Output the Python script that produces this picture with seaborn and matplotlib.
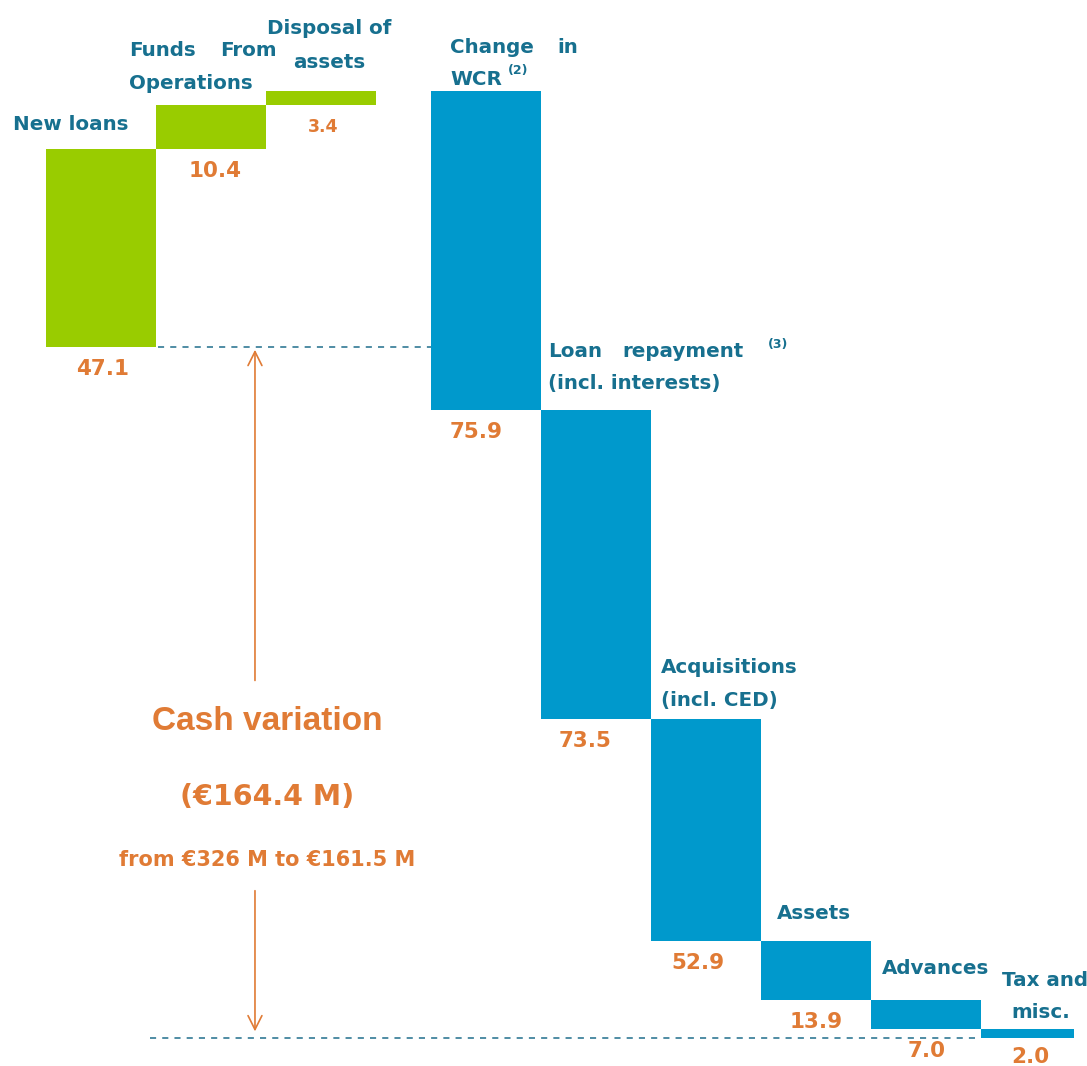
import matplotlib
matplotlib.use("Agg")
import matplotlib.pyplot as plt
import seaborn as sns

# waterfall data (EUR M)
categories = ["New loans", "Funds From Operations", "Disposal of assets",
              "Change in WCR", "Loan repayment", "Acquisitions",
              "Assets", "Advances", "Tax and misc."]
inflows = [47.1, 10.4, 3.4]
outflows = [75.9, 73.5, 52.9, 13.9, 7.0, 2.0]
value_labels = ["47.1", "10.4", "3.4", "75.9", "73.5", "52.9", "13.9", "7.0", "2.0"]
positions = [0, 1, 2, 3.5, 4.5, 5.5, 6.5, 7.5, 8.5]
cash_total = "(€164.4 M)"
cash_range = "from €326 M to €161.5 M"

GREEN = "#99CC00"
BLUE = "#0099CC"
TEAL = "#17708F"
ORANGE = "#E07B35"

sns.set_style("white")
plt.rcParams["font.family"] = ["DejaVu Sans"]

# build bottoms / heights
bottoms, heights, colors = [], [], []
level = 0.0
for v in inflows:
    bottoms.append(level)
    heights.append(v)
    colors.append(GREEN)
    level += v
for v in outflows:
    level -= v
    bottoms.append(level)
    heights.append(v)
    colors.append(BLUE)
final_level = level

fig = plt.figure(figsize=(10.87, 10.66), dpi=100)
ax = fig.add_axes([0, 0, 1, 1])
widths = [1.0] * 8 + [0.85]
ax.bar([p - 0.5 for p in positions], heights, bottom=bottoms, width=widths,
       align="edge", color=colors, linewidth=0)
ax.set_xlim(-0.918, 8.964)
ax.set_ylim(-171.07, 82.56)
ax.axis("off")

tops = [b + h for b, h in zip(bottoms, heights)]
lefts = [p - 0.5 for p in positions]

# dashed reference lines
ax.plot([0.52, 3.0], [0, 0], ls=(0, (4, 4)), color="#1F6E8C", lw=1.1)
ax.plot([0.445, 8.0], [final_level, final_level], ls=(0, (4, 4)), color="#1F6E8C", lw=1.1)

# value labels below each bar
label_dx = [2, 4, 2, -10, -11, -8, 0, 1, -6]
for i, (p, b, lab) in enumerate(zip(positions, bottoms, value_labels)):
    dy = -19 if i == 8 else -22
    ax.annotate(lab, (p, b), xytext=(label_dx[i], dy), textcoords="offset pixels",
                ha="center", va="center", color=ORANGE, fontweight="bold",
                fontsize=12.5 if i == 2 else 15.5)


def cat(i, text, dx, dy, ha="left", size=14.3):
    # dx, dy in pixels from (bar left edge, bar top)
    ax.annotate(text, (lefts[i], tops[i]), xytext=(dx, dy), textcoords="offset pixels",
                ha=ha, va="center", color=TEAL, fontweight="bold", fontsize=size)


cat(0, "New loans", -33, 25)
cat(1, "Funds", -27, 55)
cat(1, "From", 121, 55, ha="right")
cat(1, "Operations", -27, 22)
cat(2, "Disposal of", 63, 63, ha="center")
cat(2, "assets", 63, 29, ha="center")
cat(3, "Change", 19, 44)
cat(3, "in", 147, 44, ha="right")
cat(3, "WCR", 19, 12)
cat(3, "(2)", 77, 21, size=9)
cat(4, "Loan", 7, 59)
cat(4, "repayment", 203, 59, ha="right")
cat(4, "(3)", 227, 66, size=9)
cat(4, "(incl. interests)", 7, 27)
cat(5, "Acquisitions", 10, 51)
cat(5, "(incl. CED)", 10, 18)
cat(6, "Assets", 53, 28, ha="center")
cat(7, "Advances", 11, 31)
cat(8, "Tax and", 21, 49)
cat(8, "misc.", 60, 17, ha="center")

# cash variation arrows and text
arrow_x = 1.4
ax.annotate("", xy=(arrow_x, 0), xytext=(arrow_x, -80),
            arrowprops=dict(arrowstyle="->", color=ORANGE, lw=1.2, mutation_scale=25))
ax.annotate("", xy=(arrow_x, final_level + 0.8), xytext=(arrow_x, -128.7),
            arrowprops=dict(arrowstyle="->", color=ORANGE, lw=1.2, mutation_scale=25))
ax.text(1.51, -89.2, "Cash variation", ha="center", va="center", color=ORANGE,
        fontweight="bold", fontsize=24, family=["Liberation Sans", "DejaVu Sans"])
ax.text(1.51, -107.1, cash_total, ha="center", va="center", color=ORANGE,
        fontweight="bold", fontsize=20.5)
ax.text(1.51, -122.1, cash_range, ha="center", va="center", color=ORANGE,
        fontweight="bold", fontsize=15)

fig.savefig("out.png", dpi=100)
